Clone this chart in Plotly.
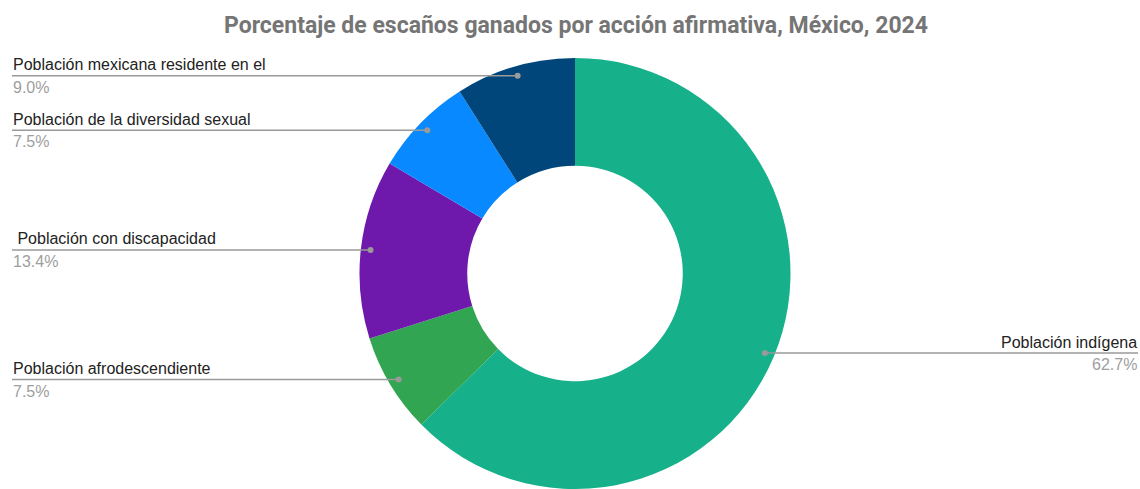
import math
import plotly.graph_objects as go

# ---- data ----
labels = [
    "Población indígena",
    "Población afrodescendiente",
    " Población con discapacidad",
    "Población de la diversidad sexual",
    "Población mexicana residente en el",
]
values = [62.7, 7.5, 13.4, 7.5, 9.0]
colors = ["#16b08a", "#32a553", "#6e19ab", "#0889ff", "#00467a"]
title = "Porcentaje de escaños ganados por acción afirmativa, México, 2024"

# ---- geometry ----
W, H = 1140, 489
cx_px = 575
dom_y = [0.0, 0.8814]
R = (dom_y[1] - dom_y[0]) * H / 2
cy_px = H - (dom_y[0] + dom_y[1]) / 2 * H  # from top
dom_x = [(cx_px - R) / W, (cx_px + R) / W]

fig = go.Figure(go.Pie(
    labels=labels, values=values, marker=dict(colors=colors, line=dict(width=0)),
    hole=0.5, sort=False, direction="clockwise", rotation=0,
    textinfo="none", hoverinfo="label+percent", showlegend=False,
    domain=dict(x=dom_x, y=dom_y),
))

total = sum(values)
shapes, annotations = [], []
cum = 0.0
LINE_C = "#9a9a9a"
for lab, v in zip(labels, values):
    mid = (cum + v / 2) / total
    cum += v
    ang = mid * 2 * math.pi
    r = 0.955 * R
    dx_px = cx_px + r * math.sin(ang)
    dy_px = cy_px - r * math.cos(ang)
    yp = 1 - dy_px / H
    right = dx_px > cx_px
    x0 = dx_px if right else 12
    x1 = 1138 if right else dx_px
    shapes.append(dict(type="line", xref="paper", yref="paper",
                       x0=x0 / W, x1=x1 / W, y0=yp, y1=yp,
                       line=dict(color=LINE_C, width=1.5)))
    shapes.append(dict(type="circle", xref="paper", yref="paper",
                       x0=(dx_px - 3) / W, x1=(dx_px + 3) / W,
                       y0=yp - 3 / H, y1=yp + 3 / H,
                       fillcolor=LINE_C, line=dict(width=0)))
    ax = 1138 / W if right else 12 / W
    xa = "right" if right else "left"
    annotations.append(dict(xref="paper", yref="paper", x=ax, y=yp + 1.5 / H,
                            text=lab.replace(" ", "\u00a0", 1) if lab.startswith(" ") else lab,
                            showarrow=False, xanchor=xa, yanchor="bottom",
                            font=dict(family="Liberation Sans, Arial", size=16, color="#222222"),
                            borderpad=0))
    annotations.append(dict(xref="paper", yref="paper", x=ax, y=yp - 2 / H,
                            text=f"{v:.1f}%", showarrow=False, xanchor=xa, yanchor="top",
                            font=dict(family="Liberation Sans, Arial", size=16, color="#9e9e9e"),
                            borderpad=0))

fig.update_layout(
    width=W, height=H,
    margin=dict(l=0, r=0, t=0, b=0),
    paper_bgcolor="white", plot_bgcolor="white",
    title=dict(text="<b>" + title + "</b>", x=576 / W, xanchor="center",
               y=1 - 25 / H, yanchor="middle",
               font=dict(family="Roboto", size=23, color="#757575")),
    shapes=shapes, annotations=annotations,
)

fig.write_html("out.html", config={"displayModeBar": False},
               post_script="document.body.style.margin='0px';")
